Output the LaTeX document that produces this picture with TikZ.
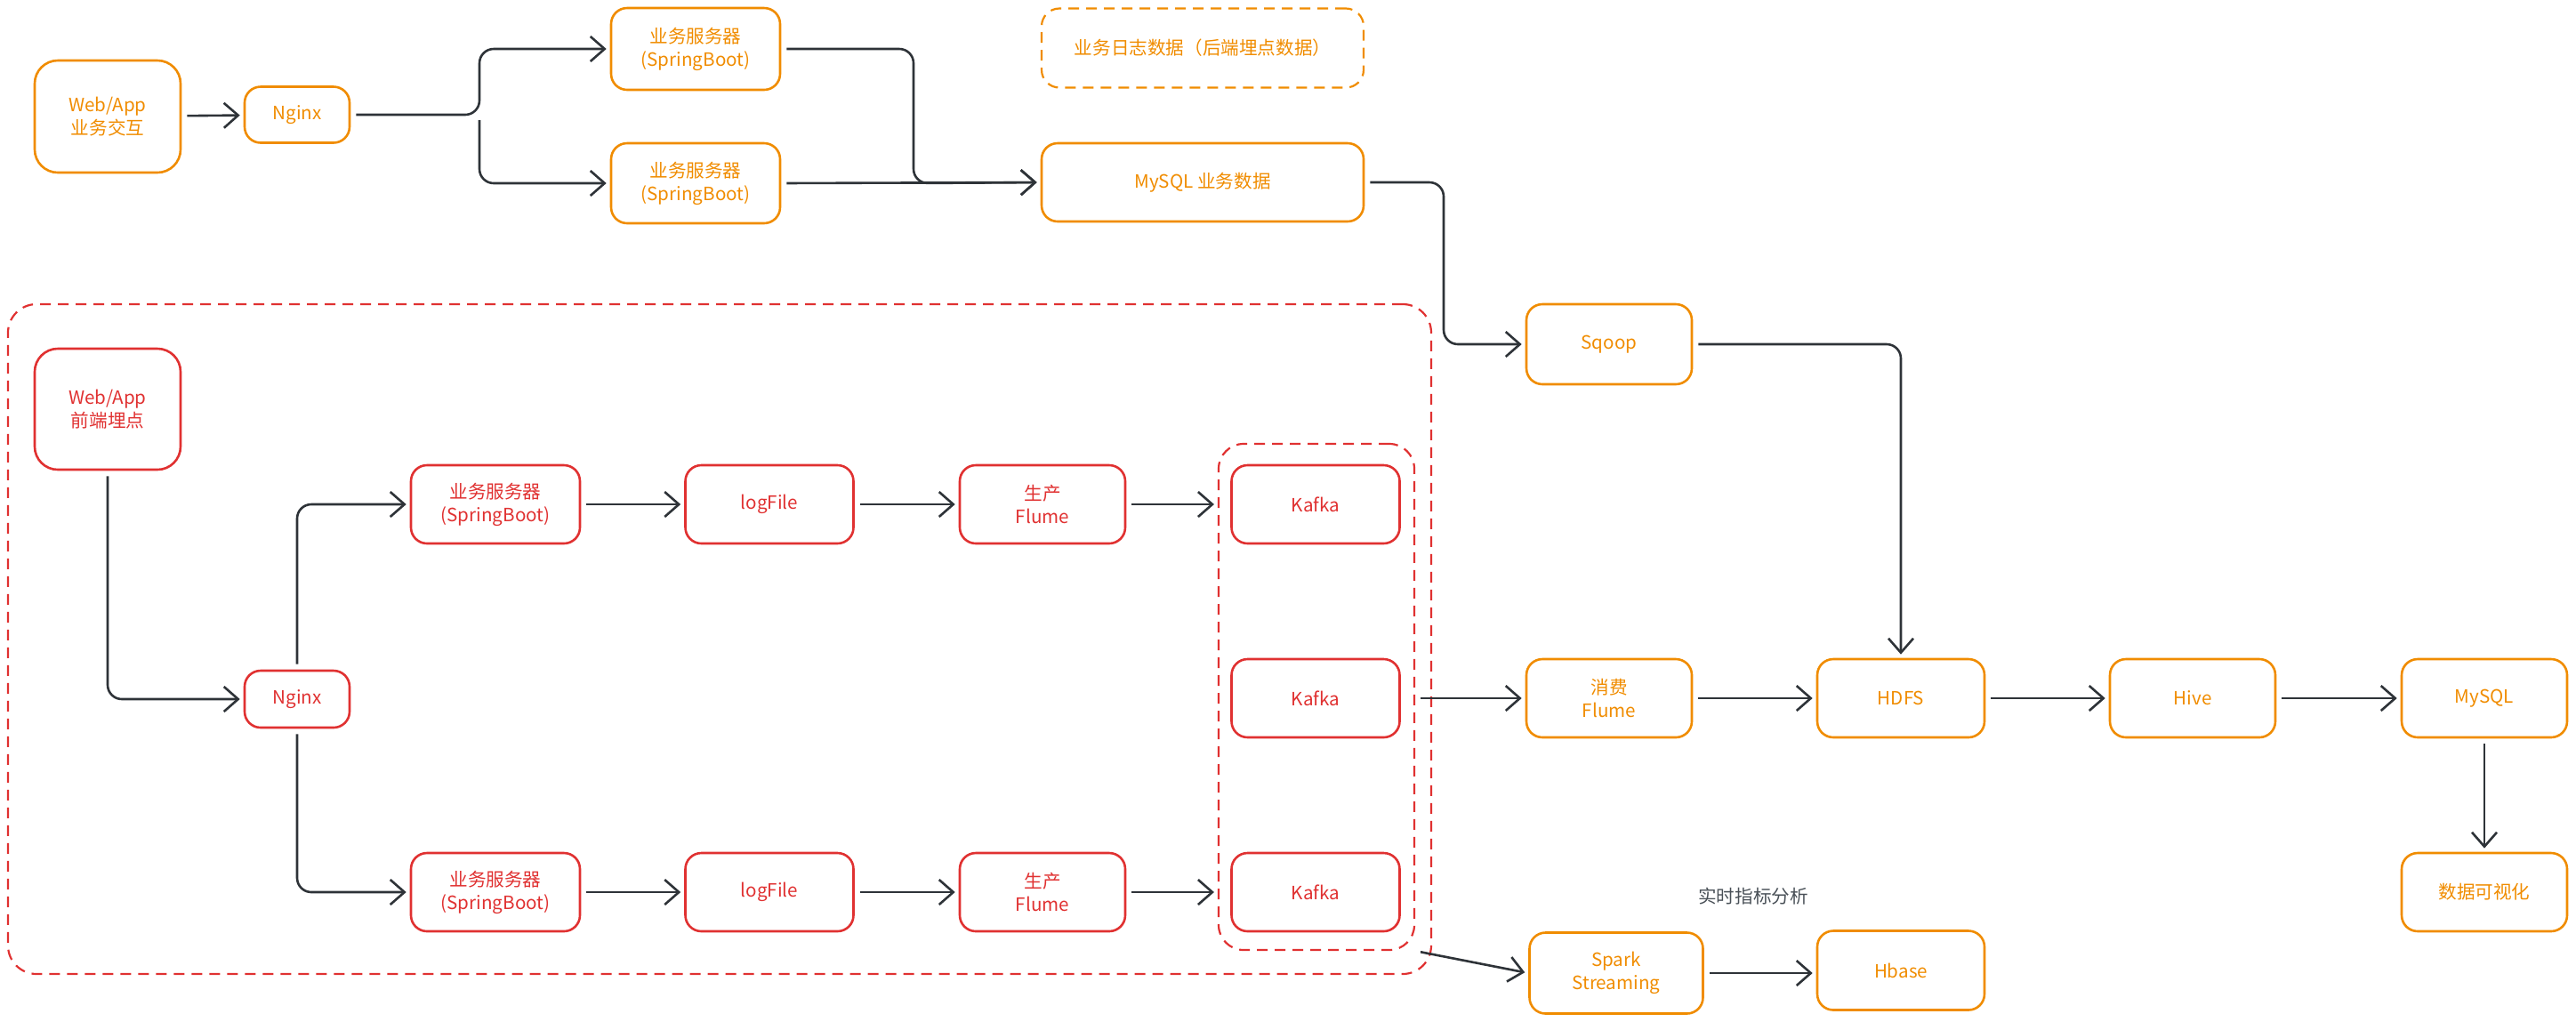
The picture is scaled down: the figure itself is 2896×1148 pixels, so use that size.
\documentclass[tikz,border=0pt]{standalone}
\usepackage{fontspec}
\setmainfont{Noto Sans CJK SC}
\usetikzlibrary{arrows.meta}
\definecolor{ora}{HTML}{F08C00}
\definecolor{rd}{HTML}{E03131}
\definecolor{ink}{HTML}{2E3338}
\definecolor{gry}{HTML}{495057}
\begin{document}
\begin{tikzpicture}[x=0.5pt,y=-0.5pt,
 box/.style={draw, line width=1.3pt, rounded corners=9pt, align=center, inner sep=0pt, font=\fontsize{10.3}{13}\selectfont},
 obox/.style={box, draw=ora, text=ora},
 rbox/.style={box, draw=rd, text=rd},
 dbox/.style={draw, line width=1.1pt, dash pattern=on 6pt off 4pt, rounded corners=14pt, inner sep=0pt},
 conn/.style={draw=ink, line width=1.3pt, rounded corners=8pt, -{Straight Barb[length=8pt,width=14pt,line width=1.3pt]}, shorten <=3pt, shorten >=2pt},
 ]
\useasboundingbox (0,0) rectangle (2896,1148);
% dashed groups
\node[dbox, draw=rd, minimum width=800pt, minimum height=376.5pt, rounded corners=16pt] (bigbox) at (809,718.5) {};
\node[dbox, draw=rd, minimum width=110pt, minimum height=284.5pt] (kbox) at (1480,783.5) {};
% top row
\node[obox, minimum width=82pt, minimum height=63pt, rounded corners=13pt] (w1) at (121,131) {Web/App\\业务交互};
\node[obox, minimum width=59pt, minimum height=31.5pt] (ng1) at (334,129) {Nginx};
\node[obox, minimum width=95pt, minimum height=46pt] (sb1) at (782,55) {业务服务器\\(SpringBoot)};
\node[obox, minimum width=95pt, minimum height=45pt] (sb2) at (782,206) {业务服务器\\(SpringBoot)};
\node[dbox, draw=ora, text=ora, minimum width=181pt, minimum height=44.5pt, rounded corners=10pt, font=\fontsize{10.3}{13}\selectfont] (logd) at (1352,54) {业务日志数据（后端埋点数据）};
\node[obox, minimum width=181pt, minimum height=44pt] (mysqlb) at (1352,205) {MySQL 业务数据};
\node[obox, minimum width=93pt, minimum height=45pt] (sqoop) at (1809,387) {Sqoop};
% right flow
\node[obox, minimum width=93pt, minimum height=44pt] (cflume) at (1809,785) {消费\\Flume};
\node[obox, minimum width=94pt, minimum height=44pt] (hdfs) at (2137,785) {HDFS};
\node[obox, minimum width=93pt, minimum height=44pt] (hive) at (2465,785) {Hive};
\node[obox, minimum width=93pt, minimum height=44pt] (mysql) at (2793,785) {MySQL};
\node[obox, minimum width=93pt, minimum height=44pt] (vis) at (2793,1003) {数据可视化};
\node[obox, minimum width=97.5pt, minimum height=45.5pt] (spark) at (1817,1094) {Spark\\Streaming};
\node[obox, minimum width=94pt, minimum height=44.5pt] (hbase) at (2137,1091) {Hbase};
\node[text=gry, font=\fontsize{10.3}{13}\selectfont] (lbl) at (1971,1008) {实时指标分析};
% red flow
\node[rbox, minimum width=82pt, minimum height=68pt, rounded corners=13pt] (w2) at (121,460) {Web/App\\前端埋点};
\node[rbox, minimum width=59pt, minimum height=32pt] (ng2) at (334,786) {Nginx};
\node[rbox, minimum width=95pt, minimum height=44pt] (sb3) at (557,567) {业务服务器\\(SpringBoot)};
\node[rbox, minimum width=94.5pt, minimum height=44pt] (lf1) at (865,567) {logFile};
\node[rbox, minimum width=93pt, minimum height=44pt] (pf1) at (1172,567) {生产\\Flume};
\node[rbox, minimum width=94.5pt, minimum height=44pt] (k1) at (1479,567) {Kafka};
\node[rbox, minimum width=94.5pt, minimum height=44pt] (k2) at (1479,785) {Kafka};
\node[rbox, minimum width=94.5pt, minimum height=44pt] (k3) at (1479,1003) {Kafka};
\node[rbox, minimum width=95pt, minimum height=44pt] (sb4) at (557,1003) {业务服务器\\(SpringBoot)};
\node[rbox, minimum width=94.5pt, minimum height=44pt] (lf2) at (865,1003) {logFile};
\node[rbox, minimum width=93pt, minimum height=44pt] (pf2) at (1172,1003) {生产\\Flume};
% coordinates
\coordinate (split) at (539,129);
\coordinate (j1) at (1027,206);
\coordinate (j2) at (1623,387);
% top connectors
\draw[conn] (w1) -- (ng1);
\draw[conn] (ng1.east) -- (split) |- (sb1.west);
\draw[conn] (split) |- (sb2.west);
\draw[conn] (sb1.east) -| (j1) -- (mysqlb.west);
\draw[conn] (sb2.east) -- (mysqlb.west);
\draw[conn] (mysqlb.east) -| (j2) -- (sqoop.west);
\draw[conn] (sqoop.east) -| (hdfs.north);
% right flow
\draw[conn] (kbox.east |- cflume.west) -- (cflume.west);
\draw[conn] (cflume) -- (hdfs);
\draw[conn] (hdfs) -- (hive);
\draw[conn] (hive) -- (mysql);
\draw[conn] (mysql) -- (vis);
\draw[conn] (kbox.south east) -- (spark.west);
\draw[conn] (spark.east) -- (hbase.west |- spark.east);
% red connectors
\draw[conn] (w2.south) |- (ng2.west);
\draw[conn] (ng2.north) |- (sb3.west);
\draw[conn] (ng2.south) |- (sb4.west);
\draw[conn] (sb3) -- (lf1);
\draw[conn] (lf1) -- (pf1);
\draw[conn] (pf1.east) -- (pf1.east -| kbox.west);
\draw[conn] (sb4) -- (lf2);
\draw[conn] (lf2) -- (pf2);
\draw[conn] (pf2.east) -- (pf2.east -| kbox.west);
\end{tikzpicture}
\end{document}
